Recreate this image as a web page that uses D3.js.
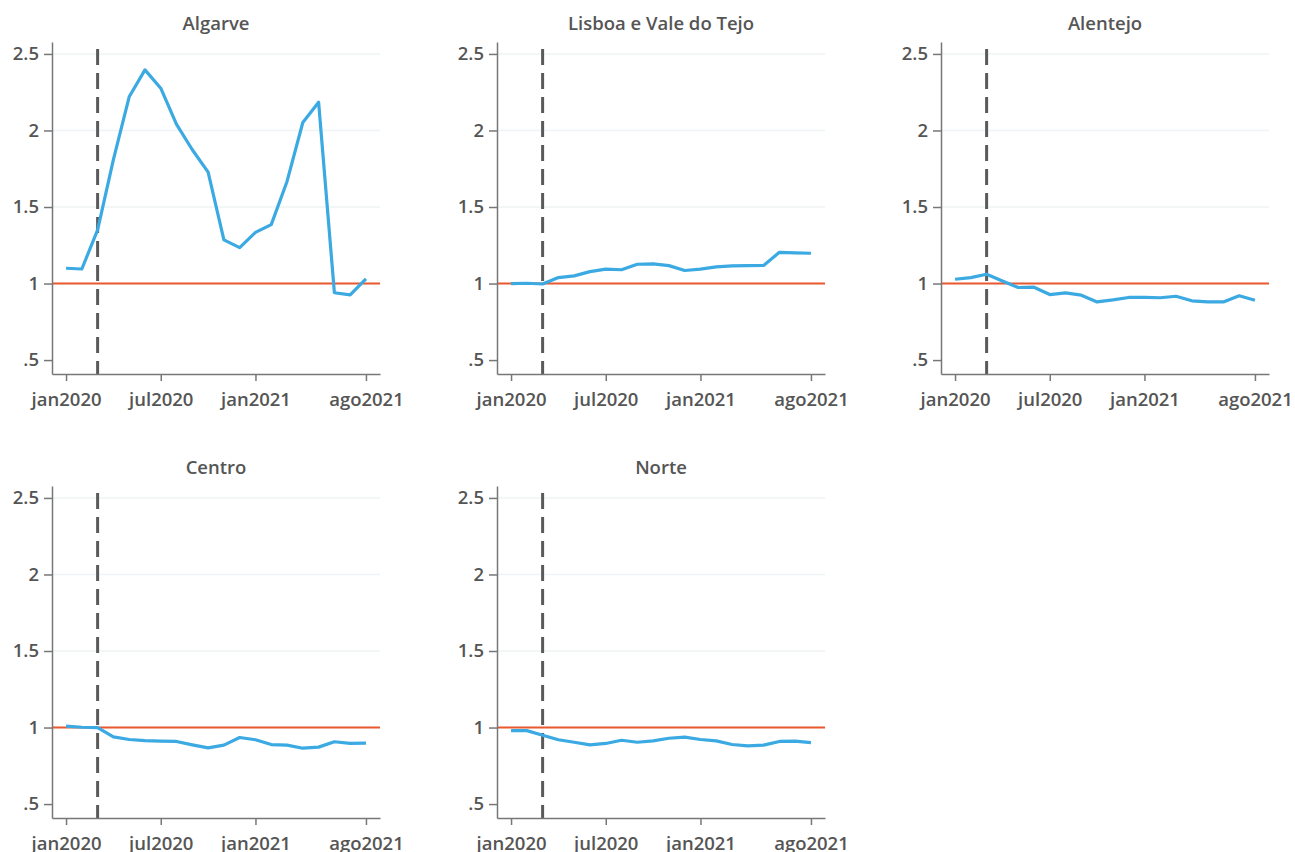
<!doctype html>
<html>
  <head>
    <meta charset="utf-8">
    <title>Regiões</title>
    <script src="https://cdn.jsdelivr.net/npm/d3@7"></script>
    <style>
      body { margin: 0; background: #fff; }
      text { font-family: "Open Sans", sans-serif; font-weight: 600; fill: #555; }
    </style>
  </head>
  <body>
    <script>
      // meses: 0 = jan2020 ... 19 = ago2021
      const months = d3.range(0, 20);
      const regions = ['Algarve', 'Lisboa e Vale do Tejo', 'Alentejo', 'Centro', 'Norte'];

      const algarve = [1.10, 1.095, 1.35, 1.81, 2.22, 2.396, 2.276, 2.04, 1.874, 1.728, 1.285, 1.235, 1.334, 1.385, 1.667, 2.052, 2.185, 0.94, 0.926, 1.03];
      const lisboa = [1.0, 1.002, 0.997, 1.039, 1.05, 1.078, 1.094, 1.09, 1.126, 1.128, 1.117, 1.085, 1.094, 1.109, 1.115, 1.117, 1.118, 1.204, 1.2, 1.198];
      const alentejo = [1.028, 1.039, 1.061, 1.017, 0.974, 0.976, 0.928, 0.939, 0.924, 0.88, 0.893, 0.909, 0.909, 0.907, 0.917, 0.887, 0.88, 0.88, 0.92, 0.891];
      const centro = [1.009, 1.002, 1.0, 0.939, 0.922, 0.915, 0.911, 0.909, 0.887, 0.867, 0.885, 0.935, 0.92, 0.889, 0.885, 0.865, 0.872, 0.907, 0.896, 0.898];
      const norte = [0.98, 0.98, 0.95, 0.92, 0.904, 0.887, 0.896, 0.917, 0.904, 0.913, 0.93, 0.937, 0.922, 0.913, 0.889, 0.88, 0.885, 0.909, 0.911, 0.902];
      const series = [algarve, lisboa, alentejo, centro, norte];

      const xTicks = [0, 6, 12, 19];
      const xTickLabels = ['jan2020', 'jul2020', 'jan2021', 'ago2021'];
      const yTicks = [0.5, 1, 1.5, 2, 2.5];
      const gridTicks = [1, 1.5, 2, 2.5];
      const lockdown = 2;   // mar2020
      const refValue = 1;

      const width = 1295, height = 852;
      const panelW = 328, panelH = 332;
      const colX = [52, 497, 941];
      const rowY = [42, 486];
      const fontSize = 18.5;

      const svg = d3.select('body').append('svg')
          .attr('width', width)
          .attr('height', height);

      const x = d3.scaleLinear()
          .domain([-0.89, 19.89])
          .range([0, panelW]);

      const y = d3.scaleLinear()
          .domain([0.409, 2.578])
          .range([panelH, 0]);

      const line = d3.line()
          .x((d, i) => x(months[i]))
          .y(d => y(d));

      const fmtY = v => v === 0.5 ? '.5' : String(v);

      regions.forEach((name, k) => {
        const g = svg.append('g')
            .attr('transform', `translate(${colX[k % 3]},${rowY[Math.floor(k / 3)]})`);

        // grelha
        g.append('g')
          .selectAll('line')
          .data(gridTicks)
          .enter().append('line')
            .attr('x1', 0)
            .attr('x2', panelW)
            .attr('y1', d => y(d))
            .attr('y2', d => y(d))
            .attr('stroke', '#eef3f5')
            .attr('stroke-width', 1.5);

        // linha de referência em 1
        g.append('line')
            .attr('x1', 0)
            .attr('x2', panelW)
            .attr('y1', y(refValue))
            .attr('y2', y(refValue))
            .attr('stroke', '#e9582e')
            .attr('stroke-width', 2);

        // confinamento
        g.append('line')
            .attr('x1', x(lockdown))
            .attr('x2', x(lockdown))
            .attr('y1', 7)
            .attr('y2', panelH)
            .attr('stroke', '#5a5a5a')
            .attr('stroke-width', 3)
            .attr('stroke-dasharray', '16,8');

        g.append('path')
            .datum(series[k])
            .attr('d', line)
            .attr('fill', 'none')
            .attr('stroke', '#3ba9e2')
            .attr('stroke-width', 3.2)
            .attr('stroke-linejoin', 'round');

        // eixos
        const yAxis = g.append('g')
            .call(d3.axisLeft(y).tickValues(yTicks).tickFormat(fmtY).tickSize(8).tickSizeOuter(0));
        const xAxis = g.append('g')
            .attr('transform', `translate(0,${panelH})`)
            .call(d3.axisBottom(x).tickValues(xTicks).tickFormat((d, i) => xTickLabels[i]).tickSize(7).tickSizeOuter(0));

        [yAxis, xAxis].forEach(a => {
          a.select('.domain').attr('stroke', '#777').attr('stroke-width', 1.5);
          a.selectAll('.tick line').attr('stroke', '#777').attr('stroke-width', 1.5);
          a.selectAll('.tick text').attr('font-size', fontSize).attr('fill', '#555');
        });
        yAxis.selectAll('.tick text').attr('x', -13);
        xAxis.selectAll('.tick text').attr('y', 19);

        g.append('text')
            .attr('x', panelW / 2)
            .attr('y', -12)
            .attr('text-anchor', 'middle')
            .attr('font-size', fontSize)
            .text(name);
      });
    </script>
  </body>
</html>
